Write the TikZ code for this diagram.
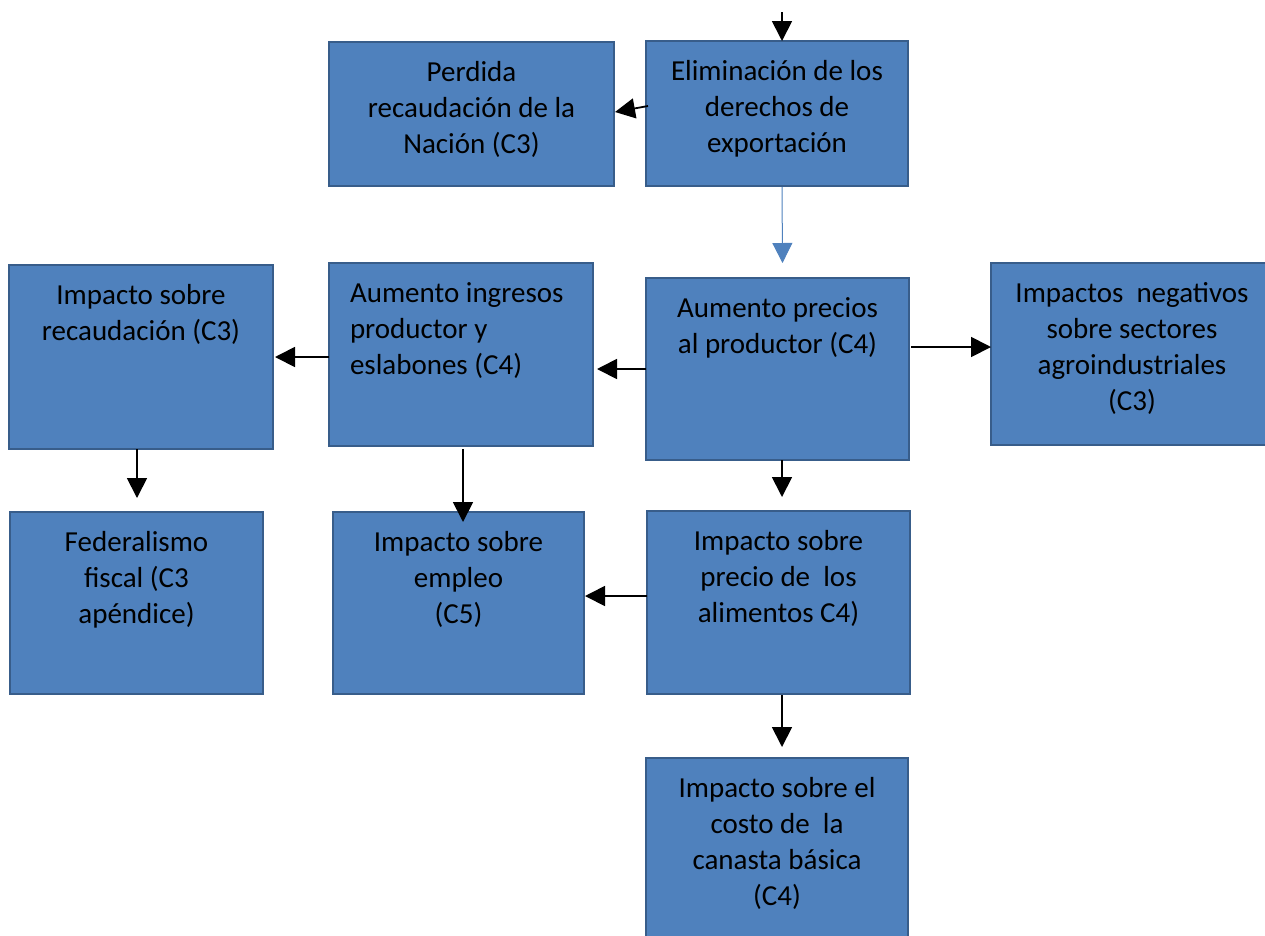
\documentclass[tikz,border=0pt]{standalone}
\usepackage{fontspec}
\setmainfont{Carlito}
\usetikzlibrary{arrows.meta,calc}
\definecolor{boxfill}{HTML}{4F81BD}
\definecolor{boxline}{HTML}{385D8A}
\newcommand{\ctext}[3]{\parbox[c][#2][t]{#1}{\centering\vspace*{14.5pt}\strut #3}}
\newcommand{\ltext}[3]{\parbox[c][#2][t]{#1}{\raggedright\leftskip=21pt\vspace*{14.5pt}\strut #3}}
\begin{document}
\begin{tikzpicture}[x=1pt,y=-1pt,
  box/.style={draw=boxline, fill=boxfill, line width=2pt, inner sep=0pt, outer sep=0pt,
    font=\fontsize{29}{36}\selectfont, text=black},
  arr/.style={draw=black, line width=1.8pt, -{Triangle[length=20pt,width=20pt]}},
  barr/.style={draw=boxfill, line width=1pt, -{Triangle[length=20pt,width=20pt]}}]
\useasboundingbox (0,0) rectangle (1265,935);
\clip (0,0) rectangle (1265,935);

\node[box] (perd) at (471.5,114) {\ctext{285pt}{144pt}{Perdida\\recaudación de la\\Nación (C3)}};
\node[box] (elim) at (777,113.5) {\ctext{262pt}{145pt}{Eliminación de los\\derechos de\\exportación}};
\node[box] (recaud) at (141,357) {\ctext{264pt}{184pt}{Impacto sobre\\recaudación (C3)}};
\node[box] (ingr) at (461,354.5) {\ltext{264pt}{183pt}{Aumento ingresos\\productor y\\eslabones (C4)}};
\node[box] (prec) at (777.5,369) {\ctext{263pt}{182pt}{Aumento precios\\al productor (C4)}};
\node[box] (neg) at (1132,354) {\ctext{282pt}{182pt}{Impactos\ \ negativos\\sobre sectores\\agroindustriales\\(C3)}};
\node[box] (fed) at (136.5,603) {\ctext{253pt}{182pt}{Federalismo\\fiscal (C3\\apéndice)}};
\node[box] (empl) at (458.5,603) {\ctext{251pt}{182pt}{Impacto sobre\\empleo\\(C5)}};
\node[box] (alim) at (778.5,602.5) {\ctext{263pt}{183pt}{Impacto sobre\\precio de\ \ los\\alimentos C4)}};
\node[box] (can) at (777,849.5) {\ctext{262pt}{183pt}{Impacto sobre el\\costo de\ \ la\\canasta básica\\(C4)}};

% connectors
\coordinate (top) at (782,12);
\draw[arr] (top) -- (top |- elim.north);
\draw[arr] ($(elim.west)+(2,-7.5)$) -- ($(perd.east)+(1,-2)$);
\draw[barr] ($(elim.south)+(5,1)$) -- ($(prec.north)+(5,-15)$);
\draw[arr] (prec.west) -- ($(ingr.east |- prec.west)+(4,0)$);
\coordinate (pn) at ($(prec.east)+(2,-22)$);
\draw[arr] (pn) -- (pn -| neg.west);
\draw[arr] ($(ingr.west)+(0,2.5)$) -- ($(recaud.east)+(2,0)$);
\draw[arr] ($(recaud.south)+(-4,0)$) -- ($(recaud.south)+(-4,49)$);
\draw[arr] ($(ingr.south)+(2,3)$) -- ($(ingr.south)+(2,76)$);
\draw[arr] ($(prec.south)+(4.5,0)$) -- ($(alim.north)+(3.5,-14)$);
\draw[arr] ($(alim.west)+(0,-6.5)$) -- ($(empl.east)+(1,-7)$);
\draw[arr] ($(alim.south)+(3.5,1)$) -- ($(can.north)+(5,-11)$);
\end{tikzpicture}
\end{document}
